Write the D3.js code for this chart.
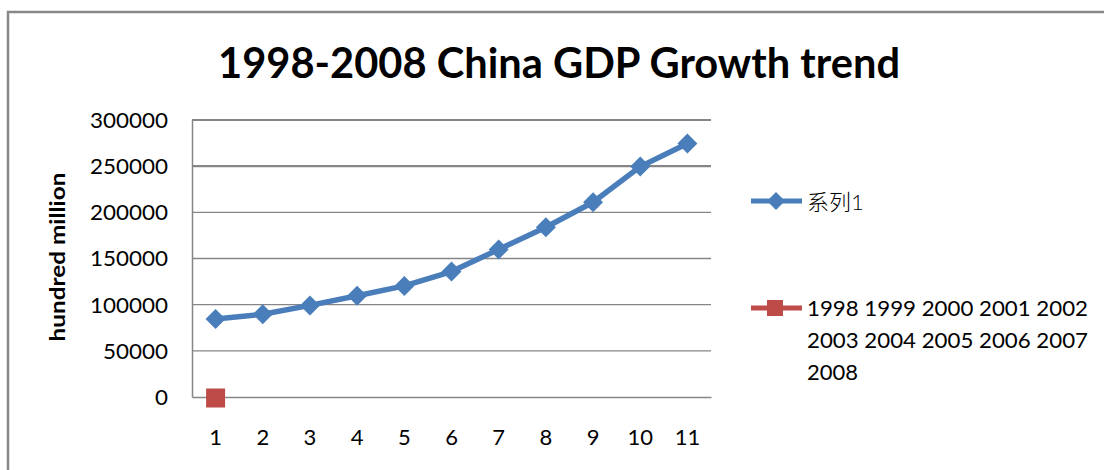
<!DOCTYPE html>
<html>
<head>
<meta charset="utf-8">
<script src="https://cdn.jsdelivr.net/npm/d3@7"></script>
<style>
  body { margin: 0; background: #fff; }
  svg { display: block; }
  text { font-family: Lato, "Open Sans", "Noto Sans CJK SC", sans-serif; fill: #000; }
</style>
</head>
<body>
<div id="chart"></div>
<script>
// chart data
var categories = ['1', '2', '3', '4', '5', '6', '7', '8', '9', '10', '11'];
var gdpValues = [84402, 89677, 99215, 109655, 120333, 135823, 159878, 183868, 210871, 249530, 274619];
var yearSeries = [0]; // second series, only one point at category 1
var yTicks = [0, 50000, 100000, 150000, 200000, 250000, 300000];
var seriesNames = ['系列1', '1998 1999 2000 2001 2002 2003 2004 2005 2006 2007 2008'];

var svgWidth = 1104;
var svgHeight = 470;

var margin = { top: 120, left: 192, right: 393, bottom: 73 };
var chartWidth = svgWidth - margin.left - margin.right;
var chartHeight = svgHeight - margin.top - margin.bottom;

var svg = d3.select('#chart')
    .append('svg')
    .attr('width', svgWidth)
    .attr('height', svgHeight);

// outer chart border
svg.append('rect')
    .attr('x', 8)
    .attr('y', 12)
    .attr('width', 1200)
    .attr('height', 600)
    .attr('fill', 'none')
    .attr('stroke', '#888')
    .attr('stroke-width', 2.5);

// title
svg.append('text')
    .attr('x', 218)
    .attr('y', 78)
    .attr('font-size', 42)
    .attr('font-weight', 'bold')
    .attr('textLength', 682)
    .attr('lengthAdjust', 'spacingAndGlyphs')
    .text('1998-2008 China GDP Growth trend');

var chartGroup = svg.append('g')
    .attr('transform', `translate(${margin.left}, ${margin.top})`);

var xScale = d3.scaleBand()
    .domain(categories)
    .range([0, chartWidth]);

var yScale = d3.scaleLinear()
    .domain([0, 300000])
    .range([chartHeight, 0]);

// gridlines
chartGroup.append('g')
    .selectAll('line')
    .data(yTicks.filter(d => d > 0))
    .enter()
    .append('line')
    .attr('x1', 0)
    .attr('x2', chartWidth)
    .attr('y1', d => yScale(d))
    .attr('y2', d => yScale(d))
    .attr('stroke', '#868686')
    .attr('stroke-width', d => (d >= 250000 ? 2.2 : 1.3));

// y axis
var leftAxis = d3.axisLeft(yScale)
    .tickValues(yTicks)
    .tickSize(0)
    .tickPadding(24)
    .tickFormat(d3.format('d'));

var yAxis = chartGroup.append('g').call(leftAxis);
yAxis.select('.domain').attr('stroke', '#868686').attr('stroke-width', 1.5);
yAxis.selectAll('text')
    .attr('font-size', 21)
    .attr('font-family', 'Lato, sans-serif')
    .attr('fill', '#000')
    .attr('dy', '0.35em')
    .attr('textLength', d => String(d).length * 13)
    .attr('lengthAdjust', 'spacingAndGlyphs');

// x axis
var bottomAxis = d3.axisBottom(xScale)
    .tickSize(0)
    .tickPadding(32);

var xAxis = chartGroup.append('g')
    .attr('transform', `translate(0, ${chartHeight})`)
    .call(bottomAxis);
xAxis.select('.domain').attr('stroke', '#868686').attr('stroke-width', 1.3);
xAxis.selectAll('text')
    .attr('font-size', 22)
    .attr('font-family', 'Lato, sans-serif')
    .attr('fill', '#000');

// y axis label
svg.append('text')
    .attr('transform', 'translate(65, 257) rotate(-90)')
    .attr('text-anchor', 'middle')
    .attr('font-size', 21)
    .attr('font-weight', 'bold')
    .attr('textLength', 169)
    .attr('lengthAdjust', 'spacingAndGlyphs')
    .text('hundred million');

var blue = '#4a7ebb';
var red = '#be4b48';

function diamond(g, cx, cy, r) {
    g.append('path')
        .attr('d', `M${cx},${cy - r}L${cx + r},${cy}L${cx},${cy + r}L${cx - r},${cy}Z`)
        .attr('fill', blue);
}

// line series
var line = d3.line()
    .x((d, i) => xScale(categories[i]) + xScale.bandwidth() / 2)
    .y(d => yScale(d));

chartGroup.append('path')
    .datum(gdpValues)
    .attr('d', line)
    .attr('fill', 'none')
    .attr('stroke', blue)
    .attr('stroke-width', 5.5)
    .attr('stroke-linejoin', 'round');

gdpValues.forEach(function(v, i) {
    diamond(chartGroup, xScale(categories[i]) + xScale.bandwidth() / 2, yScale(v), 10);
});

// second series (single square)
chartGroup.selectAll('.sq')
    .data(yearSeries)
    .enter()
    .append('rect')
    .attr('class', 'sq')
    .attr('x', (d, i) => xScale(categories[i]) + xScale.bandwidth() / 2 - 9.5)
    .attr('y', d => yScale(d) - 8.5)
    .attr('width', 19)
    .attr('height', 19)
    .attr('fill', red);

// legend
var legend = svg.append('g');

legend.append('line')
    .attr('x1', 751).attr('x2', 802)
    .attr('y1', 201).attr('y2', 201)
    .attr('stroke', blue).attr('stroke-width', 5);
diamond(legend, 776, 201, 9);
legend.append('text')
    .attr('x', 807)
    .attr('y', 210)
    .attr('font-size', 22)
    .attr('font-family', '"Noto Sans CJK SC", sans-serif')
    .attr('font-weight', 300)
    .text(seriesNames[0]);

legend.append('line')
    .attr('x1', 751).attr('x2', 802)
    .attr('y1', 308).attr('y2', 308)
    .attr('stroke', red).attr('stroke-width', 5);
legend.append('rect')
    .attr('x', 767).attr('y', 300)
    .attr('width', 16).attr('height', 16)
    .attr('fill', red);

// wrap the long legend label into rows of five years
var words = seriesNames[1].split(' ');
var rows = [];
for (var i = 0; i < words.length; i += 5) {
    rows.push(words.slice(i, i + 5).join(' '));
}
rows.forEach(function(r, i) {
    legend.append('text')
        .attr('x', 807)
        .attr('y', 316 + i * 32)
        .attr('font-size', 21)
        .attr('textLength', r.length * 11.5 + 5)
        .attr('lengthAdjust', 'spacingAndGlyphs')
        .text(r);
});
</script>
</body>
</html>
